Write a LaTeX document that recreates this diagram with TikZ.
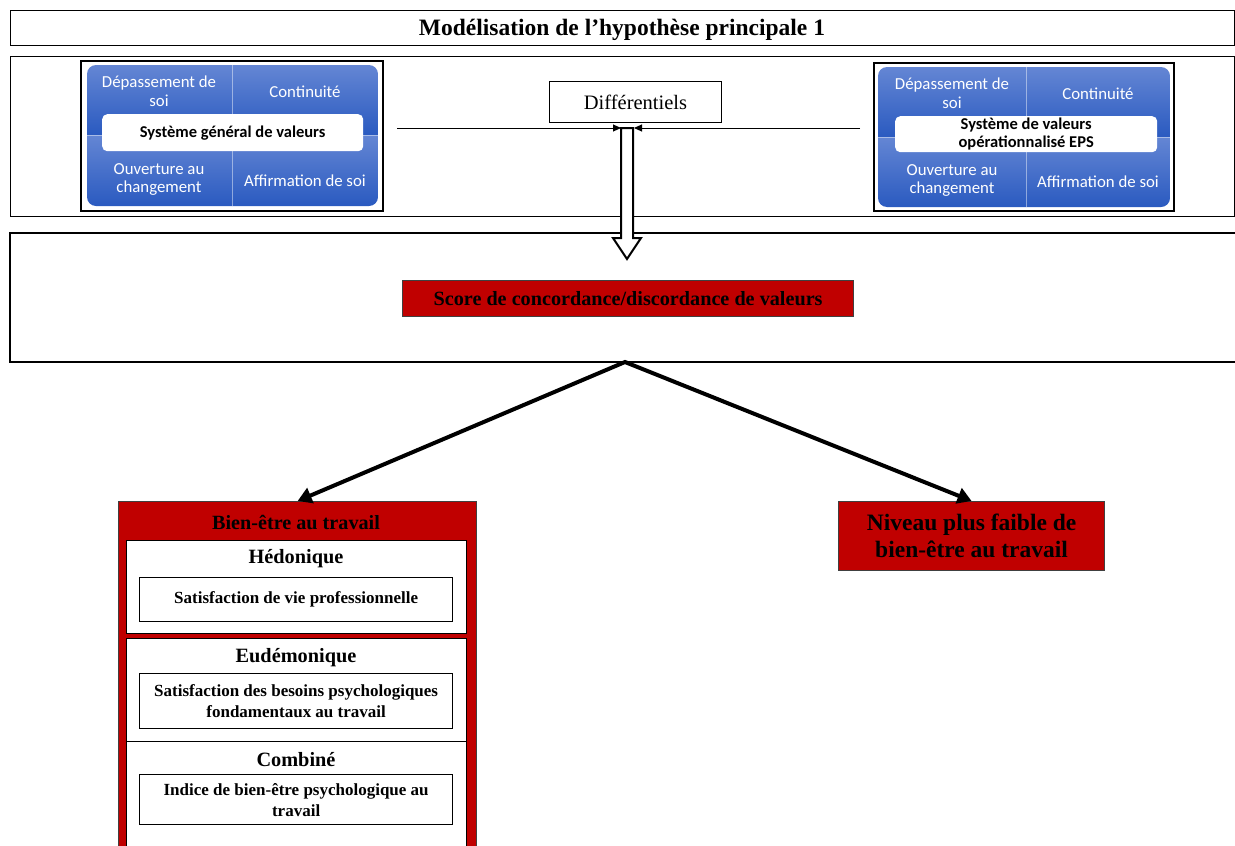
\documentclass[tikz,border=0pt]{standalone}
\usepackage{fontspec}
\setmainfont{Liberation Serif}
\newfontfamily\calfont{Carlito}
\usetikzlibrary{arrows.meta}
\definecolor{redfill}{RGB}{192,0,0}
\definecolor{bluetop}{RGB}{100,134,212}
\definecolor{bluemid}{RGB}{42,90,192}
\tikzset{
  frame/.style={draw, line width=1.3pt, inner sep=0pt, anchor=north west},
  redbox/.style={draw=black!75, line width=1.2pt, fill=redfill, inner sep=0pt, anchor=north west, align=center},
  whitebox/.style={draw, line width=1.3pt, fill=white, inner sep=0pt, anchor=north west},
  innerbox/.style={draw, line width=1.3pt, fill=white, inner sep=0pt, anchor=north west, align=center, font=\bfseries\fontsize{17}{21}\selectfont},
  bluetext/.style={text=white, align=center, font=\calfont\fontsize{16.8}{18.5}\selectfont},
  whitepill/.style={fill=white, rounded corners=5pt, inner sep=0pt, anchor=north west, align=center, font=\calfont\bfseries\fontsize{16.5}{17.5}\selectfont},
  header/.style={font=\bfseries\fontsize{20.3}{24}\selectfont},
  thinarrow/.style={line width=0.9pt, -{Triangle[length=8pt,width=7pt]}},
  thickarrow/.style={line width=4pt, line join=miter, {Triangle[length=14pt,width=16pt]}-{Triangle[length=14pt,width=16pt]}}
}
\begin{document}
\begin{tikzpicture}[x=1pt,y=-1pt]
\useasboundingbox (0,0) rectangle (1235,846);

% title band
\node[frame, minimum width=1224pt, minimum height=35pt] (title) at (10,10) {};
\node[font=\bfseries\fontsize{23.5}{26}\selectfont] (titletext) at (622,29.5) {Modélisation de l’hypothèse principale 1};
% second band
\node[frame, minimum width=1224pt, minimum height=160pt] (band2) at (10,56) {};
% third band (open on the right)
\draw[line width=1.3pt] (1240,233) -- (10,233) -- (10,362) -- (1240,362);

% ---- left value panel
\node[frame, line width=1.8pt, minimum width=302pt, minimum height=150pt] (lframe) at (80,60) {};
\begin{scope}
\clip[rounded corners=9pt] (87,65) rectangle (378,206);
\shade[top color=bluetop, bottom color=bluemid] (87,65) rectangle (378,135);
\shade[top color=bluetop, bottom color=bluemid] (87,135) rectangle (378,206);
\draw[white, opacity=0.45, line width=0.6pt] (232,65) -- (232,206);
\draw[white, opacity=0.45, line width=0.6pt] (87,135) -- (378,135);
\end{scope}
\node[bluetext] (l1) at (159,91) {Dépassement de\\soi};
\node[bluetext] (l2) at (305,91.5) {Continuité};
\node[bluetext] (l3) at (159,179.5) {Ouverture au\\changement};
\node[bluetext] (l4) at (305,180.5) {Affirmation de soi};
\node[whitepill, minimum width=261pt, minimum height=37pt] (lsys) at (102,114) {Système général de valeurs};

% ---- right value panel
\node[frame, line width=1.8pt, minimum width=300pt, minimum height=148pt] (rframe) at (873,62) {};
\begin{scope}
\clip[rounded corners=9pt] (878,67) rectangle (1170,207);
\shade[top color=bluetop, bottom color=bluemid] (878,67) rectangle (1170,137);
\shade[top color=bluetop, bottom color=bluemid] (878,137) rectangle (1170,207);
\draw[white, opacity=0.45, line width=0.6pt] (1026,67) -- (1026,207);
\draw[white, opacity=0.45, line width=0.6pt] (878,137) -- (1170,137);
\end{scope}
\node[bluetext] (r1) at (952,93) {Dépassement de\\soi};
\node[bluetext] (r2) at (1098,93.5) {Continuité};
\node[bluetext] (r3) at (952,180.5) {Ouverture au\\changement};
\node[bluetext] (r4) at (1098,181.5) {Affirmation de soi};
\node[whitepill, minimum width=262pt, minimum height=36pt] (rsys) at (895,116) {Système de valeurs\\opérationnalisé EPS};

% ---- Différentiels and arrows
\node[frame, line width=1pt, minimum width=172pt, minimum height=41pt, font=\fontsize{20.5}{24}\selectfont] (diff) at (549,81) {Différentiels};
\coordinate (lstart) at (397,128);
\coordinate (rstart) at (860,128);
\coordinate (lend) at (621,128);
\coordinate (rend) at (634,128);
\draw[thinarrow] (lstart) -- (lend);
\draw[thinarrow] (rstart) -- (rend);
\draw[line width=2pt, fill=white, line join=miter] (621,128) -- (633,128) -- (633,238) -- (641,238) -- (627,259) -- (613,238) -- (621,238) -- cycle;

% ---- score
\node[redbox, minimum width=451pt, minimum height=36pt, font=\bfseries\fontsize{20.2}{24}\selectfont] (score) at (402,280) {Score de concordance/discordance de valeurs};

% ---- outcome boxes
\node[redbox, minimum width=358pt, minimum height=370pt] (bien) at (118,501) {};
\node[font=\bfseries\fontsize{20.2}{24}\selectfont] (bientitle) at (296,522) {Bien-être au travail};

\node[whitebox, minimum width=340pt, minimum height=93pt] (hedo) at (126,540) {};
\node[header] (hedot) at (296,559) {Hédonique};
\node[innerbox, minimum width=313pt, minimum height=44pt] (hedoi) at (139,577) {Satisfaction de vie professionnelle};

\node[whitebox, minimum width=340pt, minimum height=103pt] (eudo) at (126,638) {};
\node[header] (eudot) at (296,658) {Eudémonique};
\node[innerbox, minimum width=313pt, minimum height=55pt] (eudoi) at (139,673) {Satisfaction des besoins psychologiques\\fondamentaux au travail};

\node[whitebox, minimum width=340pt, minimum height=130pt] (comb) at (126,741) {};
\node[header] (combt) at (296,760) {Combiné};
\node[innerbox, minimum width=313pt, minimum height=50pt] (combi) at (139,774) {Indice de bien-être psychologique au\\travail};

\node[redbox, minimum width=266pt, minimum height=69pt, font=\bfseries\fontsize{23.5}{27}\selectfont] (niveau) at (838,501) {Niveau plus faible de\\bien-être au travail};

\coordinate (apex) at (625,362);
\draw[thickarrow] (bien.north) -- (apex) -- (niveau.north);
\end{tikzpicture}
\end{document}
